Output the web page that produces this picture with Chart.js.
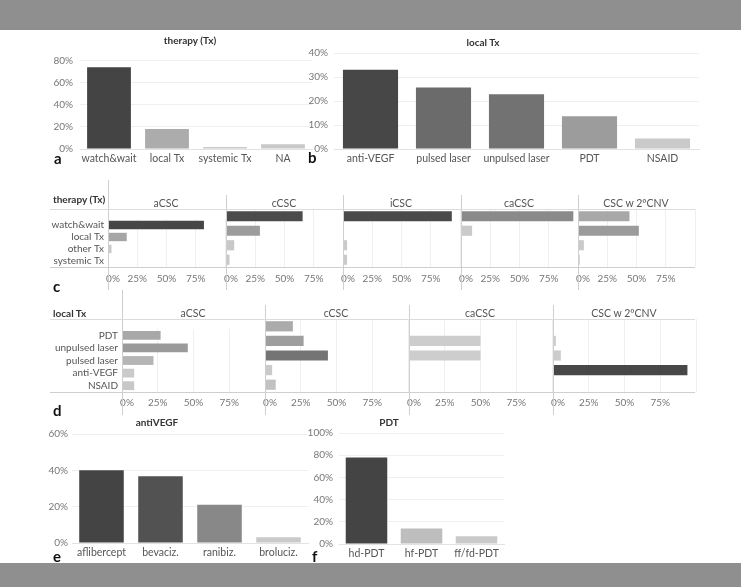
<!DOCTYPE html>
<html lang="en">
<head>
    <meta charset="UTF-8">
    <title>CSC therapy</title>
    <script src="https://cdn.jsdelivr.net/npm/chart.js"></script>
    <style>
        body {
            margin: 0;
            width: 741px;
            height: 587px;
            position: relative;
            overflow: hidden;
            background: #fff;
            font-family: Lato, "Open Sans", sans-serif;
        }
        .band { position: absolute; left: 0; width: 741px; background: #8f8f8f; }
        canvas { position: absolute; }
        .txt { position: absolute; white-space: nowrap; line-height: 1; }
        .ln { position: absolute; }
    </style>
</head>
<body>
    <div class="band" style="top:0;height:30px"></div>
    <div class="band" style="top:563px;height:24px"></div>

    <script>
        // a: therapy overall
        const therapyCats = ['watch&wait', 'local Tx', 'systemic Tx', 'NA'];
        const therapyVals = [0.74, 0.18, 0.017, 0.043];

        // b: local therapy overall
        const localCats = ['anti-VEGF', 'pulsed laser', 'unpulsed laser', 'PDT', 'NSAID'];
        const localVals = [0.33, 0.256, 0.228, 0.136, 0.044];

        // c: therapy by CSC type
        const cTypes = ['aCSC', 'cCSC', 'iCSC', 'caCSC', 'CSC w 2ºCNV'];
        const cRows = ['watch&wait', 'local Tx', 'other Tx', 'systemic Tx'];
        const cVals = [
            [0.82, 0.16, 0.03, 0.005],
            [0.655, 0.29, 0.07, 0.03],
            [0.93, 0, 0.035, 0.035],
            [0.96, 0.095, 0, 0],
            [0.44, 0.52, 0.05, 0.015]
        ];

        // d: local therapy by CSC type
        const dTypes = ['aCSC', 'cCSC', 'caCSC', 'CSC w 2ºCNV'];
        const dRows = ['PDT', 'unpulsed laser', 'pulsed laser', 'anti-VEGF', 'NSAID'];
        const dVals = [
            [0.27, 0.46, 0.22, 0.085, 0.085],
            [0.195, 0.27, 0.44, 0.05, 0.075],
            [0, 0.5, 0.5, 0, 0],
            [0, 0.02, 0.055, 0.94, 0]
        ];

        // e: anti-VEGF agents
        const antiCats = ['aflibercept', 'bevaciz.', 'ranibiz.', 'broluciz.'];
        const antiVals = [0.40, 0.368, 0.21, 0.032];

        // f: PDT protocols
        const pdtCats = ['hd-PDT', 'hf-PDT', 'ff/fd-PDT'];
        const pdtVals = [0.78, 0.14, 0.07];

        // bar colours (grey scale as in the figure)
        const therapyColors = ['#444444', '#acacac', '#c9c9c9', '#c9c9c9'];
        const localColors = ['#474747', '#6b6b6b', '#727272', '#9c9c9c', '#cacaca'];
        const cColors = [
            ['#464646', '#a6a6a6', '#cacaca', '#cacaca'],
            ['#4c4c4c', '#9c9c9c', '#c8c8c8', '#c8c8c8'],
            ['#4a4a4a', '#cacaca', '#cacaca', '#cacaca'],
            ['#8a8a8a', '#cacaca', '#cacaca', '#cacaca'],
            ['#a8a8a8', '#9b9b9b', '#cacaca', '#cacaca']
        ];
        const dColors = [
            ['#a8a8a8', '#9a9a9a', '#b5b5b5', '#cacaca', '#c8c8c8'],
            ['#ababab', '#9e9e9e', '#747474', '#cacaca', '#c2c2c2'],
            ['#cdcdcd', '#cdcdcd', '#cdcdcd', '#cdcdcd', '#cdcdcd'],
            ['#cccccc', '#cccccc', '#cccccc', '#474747', '#cccccc']
        ];
        const antiColors = ['#444444', '#525252', '#888888', '#cacaca'];
        const pdtColors = ['#444444', '#bebebe', '#cacaca'];

        Chart.defaults.font.family = 'Lato';
        Chart.defaults.font.size = 10;
        Chart.defaults.color = '#777';
        Chart.defaults.animation = false;
        Chart.defaults.plugins.legend.display = false;
        Chart.defaults.plugins.tooltip.enabled = false;

        const pct = v => Math.round(v * 100) + '%';
        // the first label of the small tables sits right of its tick, like the original
        const pctShift = v => v >= 1 ? '' : v === 0 ? '\u2002\u20020%' : pct(v);

        function addText(text, x, y, opts = {}) {
            const d = document.createElement('div');
            d.className = 'txt';
            d.textContent = text;
            d.style.left = x + 'px';
            d.style.top = y + 'px';
            d.style.fontSize = (opts.size || 10.5) + 'px';
            d.style.color = opts.color || '#555';
            if (opts.bold) d.style.fontWeight = 'bold';
            const tx = opts.align === 'left' ? '0' : opts.align === 'right' ? '-100%' : '-50%';
            d.style.transform = `translate(${tx}, -50%)`;
            document.body.appendChild(d);
        }

        function addLine(x1, y1, x2, y2, color) {
            const d = document.createElement('div');
            d.className = 'ln';
            d.style.left = x1 + 'px';
            d.style.top = y1 + 'px';
            d.style.width = Math.max(x2 - x1, 1) + 'px';
            d.style.height = Math.max(y2 - y1, 1) + 'px';
            d.style.background = color || '#d0d0d0';
            document.body.appendChild(d);
        }

        function makeCanvas(left, top, width, height) {
            const c = document.createElement('canvas');
            c.width = width;
            c.height = height;
            c.style.left = left + 'px';
            c.style.top = top + 'px';
            c.style.width = width + 'px';
            c.style.height = height + 'px';
            document.body.appendChild(c);
            return c;
        }

        // vertical bar chart with a fixed plot area (page coordinates)
        function columnChart(area, cats, vals, colors, yMax, tickPad) {
            const left = area.left - 42, top = area.top - 8;
            const right = area.right + 8, bottom = area.bottom + 20;
            const cv = makeCanvas(left, top, right - left, bottom - top);
            return new Chart(cv, {
                type: 'bar',
                data: {
                    labels: cats,
                    datasets: [{
                        data: vals,
                        backgroundColor: colors,
                        categoryPercentage: 1,
                        barPercentage: 0.755
                    }]
                },
                options: {
                    responsive: false,
                    layout: { padding: { top: 8, right: 8, left: 0, bottom: 0 } },
                    scales: {
                        x: {
                            grid: { display: false, drawTicks: false },
                            border: { color: '#e2e2e2' },
                            ticks: { color: '#555', padding: 3, maxRotation: 0, autoSkip: false, font: { size: 10.5 } },
                            afterFit: s => { s.height = 20; }
                        },
                        y: {
                            min: 0,
                            max: yMax,
                            ticks: { stepSize: yMax > 0.5 ? 0.2 : 0.1, includeBounds: false, callback: pct, padding: tickPad },
                            grid: { color: '#efefef', drawTicks: false },
                            border: { display: false },
                            afterFit: s => { s.width = 42; }
                        }
                    }
                }
            });
        }

        // horizontal bar chart for one column of the c / d tables
        function rowChart(colLeft, colWidth, areaTop, areaBottom, rows, vals, colors, labelWidth, labelPad) {
            const padL = labelWidth ? 0 : 8;
            const left = labelWidth ? colLeft - labelWidth : colLeft - 8;
            const width = (colLeft - left) + colWidth + 8;
            const cv = makeCanvas(left, areaTop, width, areaBottom - areaTop + 22);
            return new Chart(cv, {
                type: 'bar',
                data: {
                    labels: rows,
                    datasets: [{
                        data: vals,
                        backgroundColor: colors,
                        categoryPercentage: 1,
                        barPercentage: 0.7
                    }]
                },
                options: {
                    indexAxis: 'y',
                    responsive: false,
                    layout: { padding: { top: 0, right: 8, left: padL, bottom: 0 } },
                    scales: {
                        x: {
                            min: 0,
                            max: 1,
                            ticks: { stepSize: 0.25, includeBounds: false, padding: labelPad,
                                     maxRotation: 0, autoSkip: false, callback: pctShift },
                            grid: { color: '#efefef', drawTicks: false },
                            border: { display: false },
                            afterFit: s => { s.height = 22; s.paddingLeft = 0; s.paddingRight = 0; }
                        },
                        y: {
                            display: !!labelWidth,
                            grid: { display: false, drawTicks: false },
                            border: { display: false },
                            ticks: { color: '#555', padding: 4, autoSkip: false, font: { size: 10 } },
                            afterFit: s => { s.width = labelWidth; }
                        }
                    }
                }
            });
        }

        // panel a
        columnChart({ left: 80, top: 50, right: 312, bottom: 149 }, therapyCats, therapyVals, therapyColors, 0.85, 7);
        addText('therapy (Tx)', 190, 40, { bold: true, size: 10, color: '#333' });
        addText('a', 54, 158, { bold: true, size: 15, color: '#111', align: 'left' });

        // panel b
        columnChart({ left: 334, top: 49, right: 699, bottom: 149 }, localCats, localVals, localColors, 0.40, 6);
        addText('local Tx', 483, 42, { bold: true, size: 10, color: '#333' });
        addText('b', 308, 157, { bold: true, size: 15, color: '#111', align: 'left' });

        // panel c
        const cStarts = [108, 226, 343, 461, 578];
        cTypes.forEach((t, i) => {
            rowChart(cStarts[i], 117, 209, 267, cRows, cVals[i], cColors[i], i === 0 ? 58 : 0, 6);
            addText(t, cStarts[i] + 58, 203);
            if (i > 0) addLine(cStarts[i], 195, cStarts[i] + 1, 290, '#cfcfcf');
        });
        addLine(108, 180, 109, 290, '#cfcfcf');
        addLine(50, 209, 695, 210, '#dcdcdc');
        addLine(50, 267, 695, 268, '#cfcfcf');
        addText('therapy (Tx)', 53, 199, { bold: true, size: 10, color: '#333', align: 'left' });
        addText('c', 53, 286, { bold: true, size: 15, color: '#111', align: 'left' });

        // panel d
        const dStarts = [122, 265, 409, 553];
        dTypes.forEach((t, i) => {
            rowChart(dStarts[i], 143, 319, 392, dRows, dVals[i], dColors[i], i === 0 ? 72 : 0, 5);
            addText(t, dStarts[i] + 71, 313);
            if (i > 0) addLine(dStarts[i], 305, dStarts[i] + 1, 415, '#cfcfcf');
        });
        addLine(122, 290, 123, 415, '#cfcfcf');
        addLine(50, 319, 695, 320, '#dcdcdc');
        addLine(50, 392, 695, 393, '#cfcfcf');
        addText('local Tx', 53, 313, { bold: true, size: 10, color: '#333', align: 'left' });
        addText('d', 53, 410, { bold: true, size: 15, color: '#111', align: 'left' });

        // panel e
        columnChart({ left: 72, top: 432, right: 308, bottom: 543 }, antiCats, antiVals, antiColors, 0.6, 4);
        addText('antiVEGF', 157, 422, { bold: true, size: 10, color: '#333' });
        addText('e', 53, 556, { bold: true, size: 15, color: '#111', align: 'left' });

        // panel f
        columnChart({ left: 339, top: 429, right: 504, bottom: 544 }, pdtCats, pdtVals, pdtColors, 1.0, 6);
        addText('PDT', 389, 422, { bold: true, size: 10, color: '#333' });
        addText('f', 312, 556, { bold: true, size: 15, color: '#111', align: 'left' });
    </script>
</body>
</html>
